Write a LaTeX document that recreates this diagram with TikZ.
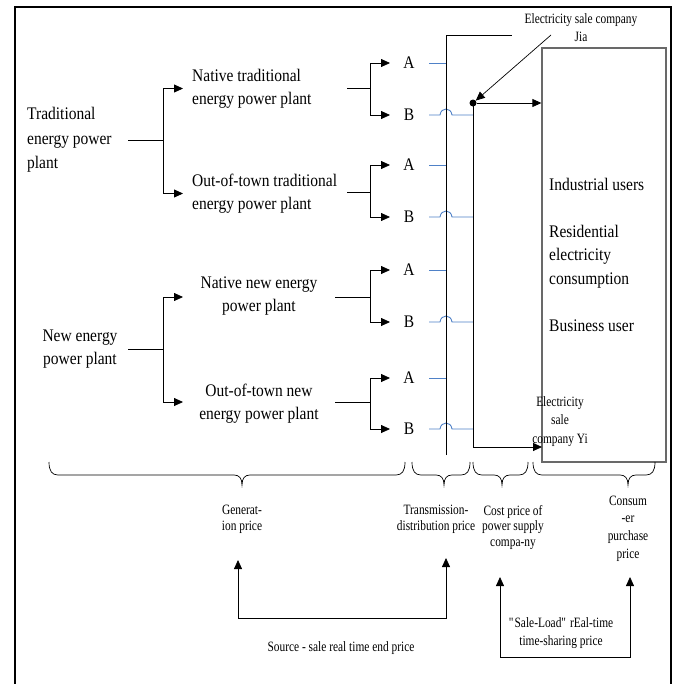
\documentclass[tikz,border=0pt]{standalone}
\usepackage{fontspec}
\setmainfont{Liberation Serif}
\newfontfamily\tallfont{Liberation Serif}[FakeStretch=0.875]
\newfontfamily\notefont{Liberation Serif}[FakeStretch=0.8]
\usetikzlibrary{arrows.meta,calc}
\definecolor{feedblue}{RGB}{79,129,199}
\definecolor{boxgray}{RGB}{105,105,105}
% curly brace opening downwards: left end, tip, right end, top
\newcommand\pricebrace[4]{%
  \draw[brc] (#1,#4) .. controls (#1,#4+9) and (#1+3,#4+13) .. (#1+9,#4+13)
    -- (#2-8,#4+13) .. controls (#2-3,#4+13) and (#2,#4+16) .. (#2,#4+23)
    .. controls (#2,#4+16) and (#2+3,#4+13) .. (#2+8,#4+13)
    -- (#3-9,#4+13) .. controls (#3-3,#4+13) and (#3,#4+9) .. (#3,#4);}
\newcommand\bigsize[1]{\tallfont\fontsize{17.7}{#1}\selectfont}
\newcommand\smallsize[1]{\notefont\fontsize{14.25}{#1}\selectfont}
\begin{document}
\begin{tikzpicture}[x=1pt,y=-1pt,
  big/.style={font=\bigsize{23}, inner sep=0pt, align=center},
  small/.style={font=\smallsize{16}, inner sep=0pt, align=center},
  wire/.style={line width=0.8pt},
  arr/.style={wire, -{Triangle[length=9pt,width=8pt]}},
  feed/.style={line width=0.9pt, draw=feedblue},
  brc/.style={line width=0.7pt},
]
\useasboundingbox (0,0) rectangle (685,683);
\fill[white] (0,0) rectangle (685,683);
\draw[line width=2.2pt] (15,684) -- (15,7) -- (671,7) -- (671,684);

% ---- generation side ----
\node[big, align=left, anchor=west, font=\bigsize{24.5}] (trad) at (27,140)
  {Traditional\\energy power\\plant};
\node[big, align=left, anchor=west] (ntrad) at (192,88.5) {Native traditional\\energy power plant};
\node[big, align=left, anchor=west] (otrad) at (192,193.5) {Out-of-town traditional\\energy power plant};
\node[big] (newe) at (80,349) {New energy\\power plant};
\node[big] (nnew) at (259,296.5) {Native new energy\\power plant};
\node[big] (onew) at (259,403.5) {Out-of-town new\\energy power plant};

\coordinate (jt) at (163,140);
\coordinate (jn) at (163,349);
\draw[wire] (128,140) -- (jt);
\draw[arr] (jt) |- ([xshift=-9pt]ntrad.west);
\draw[arr] (jt) |- ([xshift=-9pt]otrad.west);
\draw[wire] (128,349) -- (jn);
\draw[arr] (jn) |- (183,297);
\draw[arr] (jn) |- (183,402);

% ---- A / B outputs of every plant ----
\foreach \g/\ym/\ya/\yb/\xs in {1/88/63/115/347, 2/192/165/217/347, 3/297/270/322/335, 4/402/378/429/335}{
  \node[big] (A\g) at (409,\ya) {A};
  \node[big] (B\g) at (409,\yb) {B};
  \coordinate (fork\g) at (370,\ym);
  \draw[wire] (\xs,\ym) -- (fork\g);
  \draw[arr] (fork\g) |- (390,\ya);
  \draw[arr] (fork\g) |- (390,\yb);
  \draw[feed] (429,\ya) -- (446,\ya);
  \draw[feed] (429,\yb) -- (440,\yb) .. controls (441,\yb-8) and (451,\yb-8) .. (452,\yb) -- (473,\yb);
}

% ---- grid and sale companies ----
\draw[wire] (446,455) -- (446,35) -- (512,35);
\node[draw=boxgray, line width=1.3pt, minimum width=124pt, minimum height=414pt, inner sep=0pt] (box) at (604,255) {};
\node[big, align=left, anchor=west, font=\bigsize{23.5}] (users) at (549,254.5)
  {Industrial users\\[\baselineskip]Residential\\electricity\\consumption\\[\baselineskip]Business user};
\node[circle, fill, inner sep=0pt, minimum size=7pt] (jiadot) at (473,103) {};
\coordinate (yiin) at (542,447);
\draw[arr] (jiadot) -- (box.west |- jiadot);
\draw[arr] (jiadot.center) |- (yiin);
\node[small, font=\smallsize{18}] (jia) at (581,28) {Electricity sale company\\Jia};
\coordinate (jiafoot) at (551,35);
\draw[arr, line width=0.7pt] (jiafoot) -- (jiadot);
\node[small, font=\smallsize{18.5}] (yi) at (560,421.5) {Electricity\\sale\\company Yi};

% ---- price components ----
\pricebrace{49}{242}{405}{462}
\pricebrace{412}{444}{470}{462}
\pricebrace{473}{502}{528}{462}
\pricebrace{533}{628}{655}{462}

\node[small] (gen) at (242,519) {Generat-\\ion price};
\node[small] (trans) at (436,519) {Transmission-\\distribution price};
\node[small, font=\smallsize{15.5}] (cost) at (513,527.5) {Cost price of\\power supply\\compa-ny};
\node[small, font=\smallsize{17.7}] (cons) at (628,528.5) {Consum\\-er\\purchase\\price};

\coordinate (genup) at (238,560);
\coordinate (transup) at (446,558);
\coordinate (costup) at (500,577);
\coordinate (consup) at (630,577);
\draw[wire, {Triangle[length=9pt,width=8pt]}-{Triangle[length=9pt,width=8pt]}]
  (genup) -- (238,618) -- (446,618) -- (transup);
\draw[wire, {Triangle[length=9pt,width=8pt]}-{Triangle[length=9pt,width=8pt]}]
  (costup) -- (500,657) -- (630,657) -- (consup);
\node[small] (srcsale) at (341,648) {Source - sale real time end price};
\node[small, font=\smallsize{18}] (saleload) at (561,633) {\textquotedbl Sale-Load\textquotedbl{} rEal-time\\time-sharing price};
\end{tikzpicture}
\end{document}
